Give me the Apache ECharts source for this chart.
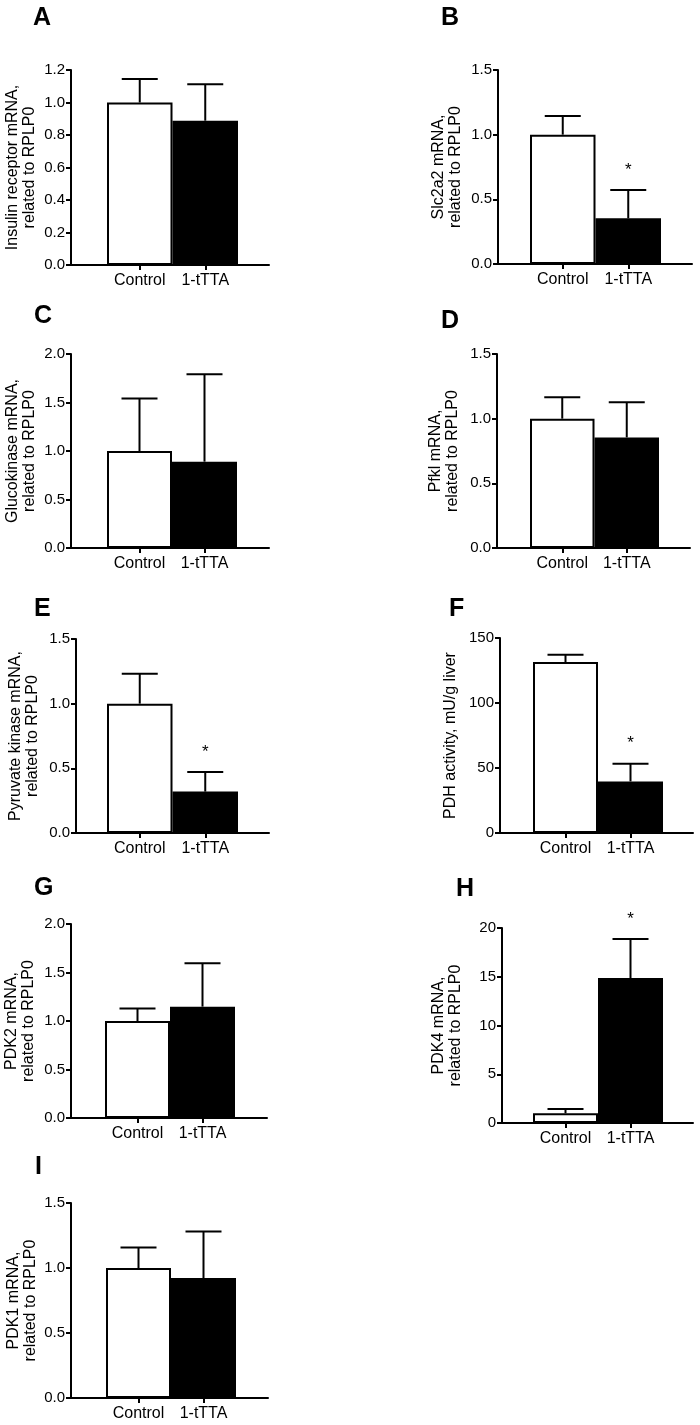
<!DOCTYPE html>
<html>
<head>
<meta charset="utf-8">
<script src="https://cdn.jsdelivr.net/npm/echarts@6/dist/echarts.min.js"></script>
<style>
html,body{margin:0;padding:0;background:#fff;}
#chart{width:700px;height:1425px;}
</style>
</head>
<body>
<div id="chart"></div>
<script>
// ---- data ----
const categories = ['Control', '1-tTTA'];
const panelLetters = ['A', 'B', 'C', 'D', 'E', 'F', 'G', 'H', 'I'];
const yAxisNames = [
  'Insulin receptor mRNA,\nrelated to RPLP0',
  'Slc2a2 mRNA,\nrelated to RPLP0',
  'Glucokinase mRNA,\nrelated to RPLP0',
  'Pfkl mRNA,\nrelated to RPLP0',
  'Pyruvate kinase mRNA,\nrelated to RPLP0',
  'PDH activity, mU/g liver',
  'PDK2 mRNA,\nrelated to RPLP0',
  'PDK4 mRNA,\nrelated to RPLP0',
  'PDK1 mRNA,\nrelated to RPLP0'
];
const controlMean = [1.0, 1.0, 1.0, 1.0, 1.0, 131.5, 1.0, 1.0, 1.0];
const controlErr  = [0.145, 0.145, 0.54, 0.165, 0.232, 5.7, 0.13, 0.44, 0.158];
const ttaMean     = [0.888, 0.353, 0.89, 0.855, 0.32, 39.7, 1.148, 14.87, 0.923];
const ttaErr      = [0.224, 0.219, 0.90, 0.271, 0.152, 13.6, 0.447, 4.0, 0.357];
const significant = [false, true, false, false, true, true, false, true, false];
const yMax        = [1.2, 1.5, 2.0, 1.5, 1.5, 150, 2.0, 20, 1.5];
const yStep       = [0.2, 0.5, 0.5, 0.5, 0.5, 50, 0.5, 5, 0.5];
const yDecimals   = [1, 1, 1, 1, 1, 0, 1, 0, 1];

// ---- layout (pixels) ----
// [axisX, topY, axisEndX, bottomY, barLeft, barWidth, nameGap, letterX, letterCapTop]
const layout = [
  [71, 70, 269, 265, 107, 65.5, 33, 34, 7],
  [498, 70, 692, 264, 530, 65.5, 34, 442, 7],
  [71, 354, 269, 548, 107, 65, 33, 35, 305],
  [497, 354, 690, 548, 530, 64.5, 36, 442, 310],
  [76, 639, 269, 833, 107, 65.5, 35, 35, 598],
  [500, 638, 693, 833, 533, 65, 41, 450, 598],
  [71, 924, 267, 1118, 105, 65, 34, 35, 877],
  [502, 928, 693, 1123, 533, 65, 38, 457, 878],
  [71, 1203, 268, 1398, 106, 65, 32, 36, 1156]
];

const FONT = "'Liberation Sans', Arial, Helvetica, sans-serif";
const INK = '#000';

const grids = [], xAxes = [], yAxes = [], series = [], titles = [];
layout.forEach((L, i) => {
  const [ax, top, axEnd, bottom, barLeft, bw, nameGap, lx, ly] = L;
  grids.push({left: ax, top: top, width: axEnd - ax, height: bottom - top, containLabel: false});
  const c0 = barLeft + bw / 2;
  xAxes.push({
    type: 'value', gridIndex: i,
    min: (ax - c0) / bw, max: (axEnd - c0) / bw,
    splitLine: {show: false},
    axisLine: {show: true, onZero: false, lineStyle: {color: INK, width: 2}},
    axisTick: {show: true, customValues: [0, 1], length: 5, lineStyle: {color: INK, width: 2}},
    axisLabel: {show: true, customValues: [0, 1], formatter: v => categories[Math.round(v)],
      fontFamily: FONT, fontSize: 16, color: INK, margin: 8}
  });
  yAxes.push({
    type: 'value', gridIndex: i, min: 0, max: yMax[i], interval: yStep[i],
    name: yAxisNames[i], nameLocation: 'middle', nameGap: nameGap, nameRotate: 90,
    nameTextStyle: {fontFamily: FONT, fontSize: 16, color: INK, lineHeight: 17},
    splitLine: {show: false},
    axisLine: {show: true, onZero: false, lineStyle: {color: INK, width: 2}},
    axisTick: {show: true, length: 5, lineStyle: {color: INK, width: 2}},
    axisLabel: {fontFamily: FONT, fontSize: 15, color: INK, margin: 6,
      formatter: v => v.toFixed(yDecimals[i])}
  });
  series.push({
    type: 'bar', xAxisIndex: i, yAxisIndex: i, barWidth: bw, silent: true,
    data: [
      {value: [0, controlMean[i]], itemStyle: {color: '#fff', borderColor: INK, borderWidth: 2}},
      {value: [1, ttaMean[i]], itemStyle: {color: INK, borderColor: INK, borderWidth: 2}}
    ]
  });
  series.push({
    type: 'custom', xAxisIndex: i, yAxisIndex: i, silent: true, z: 5,
    data: [
      [0, controlMean[i], controlErr[i], 0],
      [1, ttaMean[i], ttaErr[i], significant[i] ? 1 : 0]
    ],
    renderItem: function (params, api) {
      const x = api.value(0), m = api.value(1), e = api.value(2), s = api.value(3);
      const p0 = api.coord([x, m]);
      const p1 = api.coord([x, m + e]);
      const half = 18;
      const children = [
        {type: 'line', shape: {x1: p0[0], y1: p0[1], x2: p1[0], y2: p1[1]}, style: {stroke: INK, lineWidth: 2}},
        {type: 'line', shape: {x1: p1[0] - half, y1: p1[1], x2: p1[0] + half, y2: p1[1]}, style: {stroke: INK, lineWidth: 2}}
      ];
      if (s) {
        children.push({type: 'text', x: p1[0], y: p1[1] - 20,
          style: {text: '*', fontFamily: FONT, fontSize: 17, fill: INK, align: 'center', verticalAlign: 'middle'}});
      }
      return {type: 'group', children: children};
    }
  });
  titles.push({text: panelLetters[i], left: lx - 1, top: ly - 1, padding: 0,
    textStyle: {fontFamily: FONT, fontSize: 25, fontWeight: 'bold', color: INK}});
});

const chart = echarts.init(document.getElementById('chart'), null, {renderer: 'canvas'});
chart.setOption({
  animation: false,
  backgroundColor: '#fff',
  title: titles,
  grid: grids,
  xAxis: xAxes,
  yAxis: yAxes,
  series: series
});
</script>
</body>
</html>
